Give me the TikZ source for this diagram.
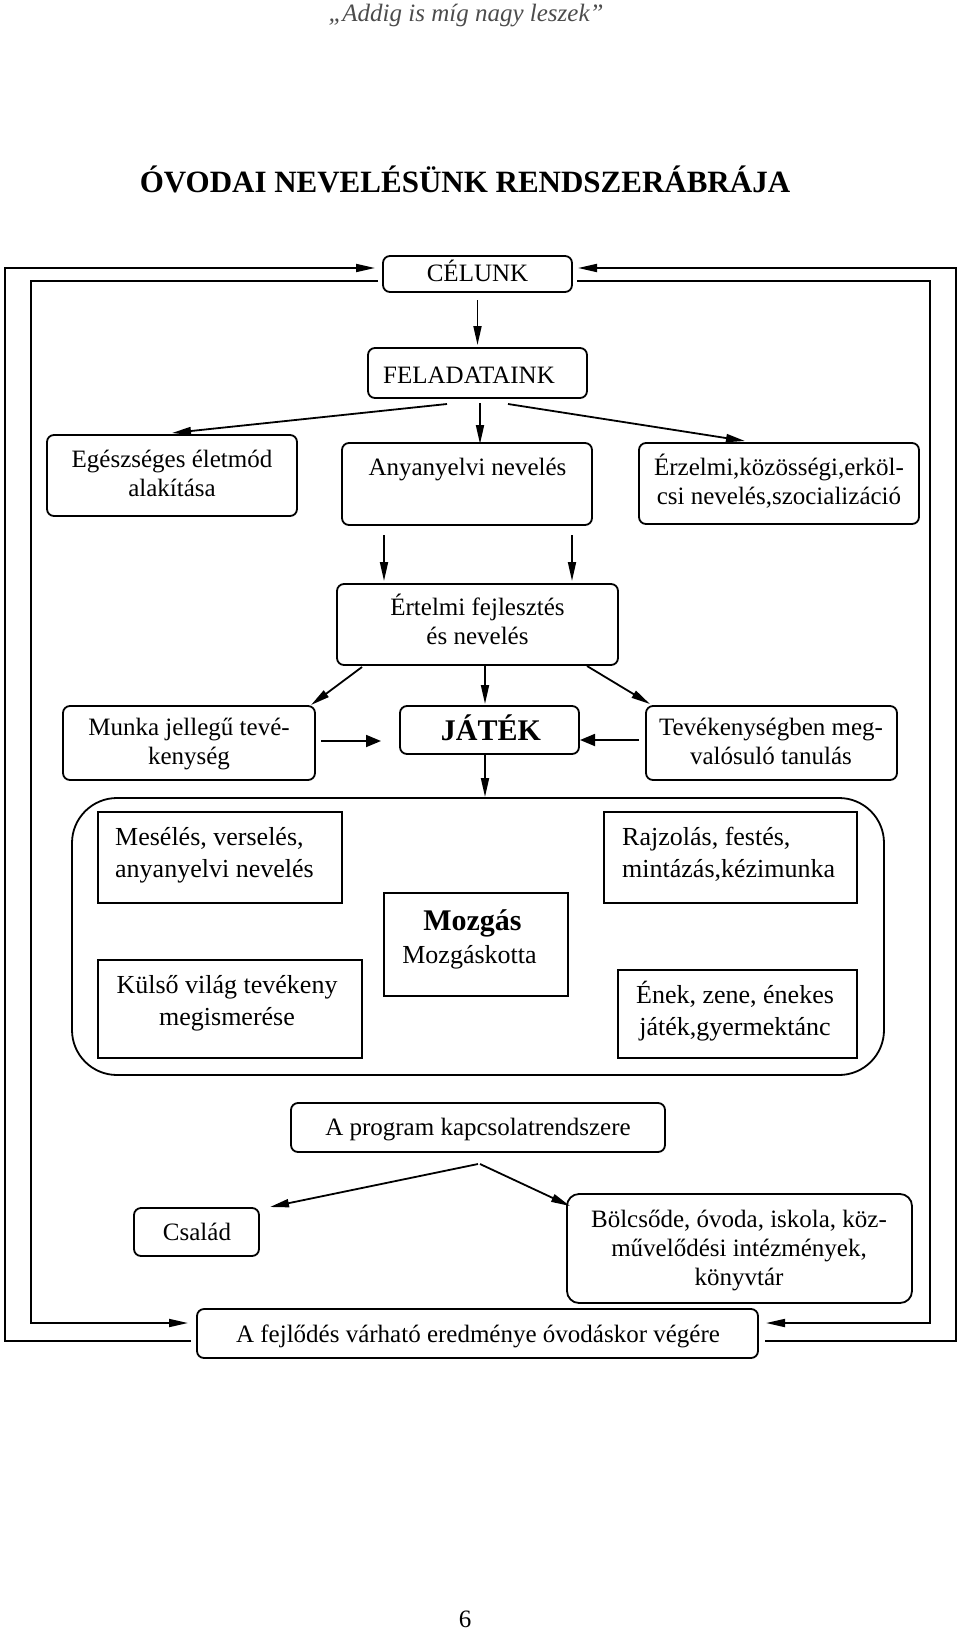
\documentclass[tikz,border=0pt]{standalone}
\usepackage{fontspec}
\setmainfont{Liberation Serif}
\usetikzlibrary{arrows.meta}
\newcommand\stA{\rule{0pt}{24pt}}
\newcommand\stB{\rule{0pt}{25pt}}
\begin{document}
\begin{tikzpicture}[x=1pt,y=-1pt,
  box/.style={draw, line width=1.8pt, rounded corners=7pt, inner sep=0pt, outer sep=0pt},
  sbox/.style={draw, line width=1.8pt, inner sep=0pt, outer sep=0pt},
  arr/.style={line width=1.8pt, -{Triangle[length=19pt,width=8pt]}},
  arrw/.style={line width=1.8pt, -{Triangle[length=15pt,width=12pt]}},
  tx/.style={font=\fontsize{25}{29}\selectfont, align=center, anchor=north, inner sep=0pt},
  t1/.style={font=\fontsize{25}{29}\selectfont, anchor=base, inner sep=0pt},
  tb/.style={font=\fontsize{26}{32}\selectfont, inner sep=0pt},
  tbold/.style={font=\fontsize{30}{34}\selectfont\bfseries, anchor=base, inner sep=0pt}
]
\useasboundingbox (0,0) rectangle (960,1632);

% header and title
\node[t1, font=\fontsize{25}{29}\selectfont\itshape, text=black!70] (hdr) at (466,21.5) {„Addig is míg nagy leszek”};
\node[anchor=base, inner sep=0pt, font=\fontsize{31}{35}\selectfont\bfseries] (ttl) at (465,193) {ÓVODAI NEVELÉSÜNK RENDSZERÁBRÁJA};

% boxes
\node[box, minimum width=189pt, minimum height=36pt] (cel) at (477.5,274) {};
\node[box, minimum width=219pt, minimum height=50pt] (fel) at (477.5,373) {};
\node[box, minimum width=250pt, minimum height=81pt] (egesz) at (172,475.5) {};
\node[box, minimum width=250pt, minimum height=82pt] (anya) at (467,484) {};
\node[box, minimum width=280pt, minimum height=81pt] (erzel) at (779,483.5) {};
\node[box, minimum width=281pt, minimum height=81pt] (ertel) at (477.5,624.5) {};
\node[box, minimum width=252pt, minimum height=74pt] (munka) at (189,743) {};
\node[box, minimum width=179pt, minimum height=48pt] (jatek) at (489.5,730) {};
\node[box, minimum width=251pt, minimum height=74pt] (tevek) at (771.5,743) {};
\node[box, rounded corners=45pt, minimum width=812pt, minimum height=277pt] (cont) at (478,936.5) {};
\node[sbox, minimum width=244pt, minimum height=91pt] (mesel) at (220,857.5) {};
\node[sbox, minimum width=264pt, minimum height=98pt] (kulso) at (230,1009) {};
\node[sbox, minimum width=184pt, minimum height=103pt] (mozg) at (476,944.5) {};
\node[sbox, minimum width=253pt, minimum height=91pt] (rajz) at (730.5,857.5) {};
\node[sbox, minimum width=239pt, minimum height=88pt] (enek) at (737.5,1014) {};
\node[box, minimum width=374pt, minimum height=49pt] (prog) at (478,1127.5) {};
\node[box, minimum width=125pt, minimum height=48pt] (csal) at (196.5,1232) {};
\node[box, rounded corners=12pt, minimum width=345pt, minimum height=109pt] (bolcs) at (739.5,1248.5) {};
\node[box, minimum width=561pt, minimum height=49pt] (fejl) at (477.5,1333.5) {};

% texts
\node[t1] (celT) at (477.5,281) {CÉLUNK};
\node[t1] (felT) at (469,383) {FELADATAINK};
\node[tx] (egeszT) at (172,443) {\stA Egészséges életmód\\alakítása};
\node[t1] (anyaT) at (467.5,475) {Anyanyelvi nevelés};
\node[tx] (erzelT) at (779,451) {\stA Érzelmi,közösségi,erköl-\\csi nevelés,szocializáció};
\node[tx] (ertelT) at (477.5,591) {\stA Értelmi fejlesztés\\és nevelés};
\node[tx] (munkaT) at (189,711) {\stA Munka jellegű tevé-\\kenység};
\node[tbold] (jatekT) at (491,740) {JÁTÉK};
\node[tx] (tevekT) at (771,711) {\stA Tevékenységben meg-\\valósuló tanulás};
\node[tb, anchor=north west, align=left] (meselT) at (115,820) {\stB Mesélés, verselés,\\anyanyelvi nevelés};
\node[tb, anchor=north, align=center] (kulsoT) at (227,968) {\stB Külső világ tevékeny\\megismerése};
\node[tbold] (mozgT) at (472.5,930) {Mozgás};
\node[tb, anchor=base] (mozgT2) at (469.5,963) {Mozgáskotta};
\node[tb, anchor=north west, align=left] (rajzT) at (622,820) {\stB Rajzolás, festés,\\mintázás,kézimunka};
\node[tb, anchor=north, align=center] (enekT) at (735,978) {\stB Ének, zene, énekes\\játék,gyermektánc};
\node[t1] (progT) at (478,1135) {A program kapcsolatrendszere};
\node[t1] (csalT) at (197,1240) {Család};
\node[tx] (bolcsT) at (739,1203) {\stA Bölcsőde, óvoda, iskola, köz-\\művelődési intézmények,\\könyvtár};
\node[t1] (fejlT) at (478,1342) {A fejlődés várható eredménye óvodáskor végére};
\node[t1] (page) at (465,1627) {6};

% frame corners
\coordinate (oBL) at (5,1341);
\coordinate (oTL) at (5,268);
\coordinate (oTR) at (956,268);
\coordinate (oBR) at (956,1341);
\coordinate (iTL) at (31,281);
\coordinate (iBL) at (31,1323);
\coordinate (iTR) at (930,281);
\coordinate (iBR) at (930,1323);

% frame loops
\draw[arr] ([xshift=-6pt,yshift=-7.5pt]fejl.west) -- (oBL) -- (oTL) -- ([xshift=-8pt,yshift=6pt]cel.west);
\draw[arr] ([xshift=7pt,yshift=-7.5pt]fejl.east) -- (oBR) -- (oTR) -- ([xshift=6pt,yshift=6pt]cel.east);
\draw[arr] ([xshift=-5pt,yshift=-7pt]cel.west) -- (iTL) -- (iBL) -- ([xshift=-9pt,yshift=10.5pt]fejl.west);
\draw[arr] ([xshift=5pt,yshift=-7pt]cel.east) -- (iTR) -- (iBR) -- ([xshift=8pt,yshift=10.5pt]fejl.east);

% connectors
\draw[arr, shorten <=8pt, shorten >=3pt] (cel.south) -- (fel.north);
\draw[arr] ([xshift=-30.5pt,yshift=-6pt]fel.south) -- ([yshift=2pt]egesz.north);
\draw[arr] ([xshift=2.5pt,yshift=-5pt]fel.south) -- ([xshift=13pt,yshift=-1pt]anya.north);
\draw[arr] ([xshift=30.5pt,yshift=-6pt]fel.south) -- ([xshift=-34pt,yshift=2pt]erzel.north);
\draw[arr] ([xshift=-83pt,yshift=-10pt]anya.south) -- ([xshift=-93.5pt,yshift=3pt]ertel.north);
\draw[arr] ([xshift=105pt,yshift=-10pt]anya.south) -- ([xshift=94.5pt,yshift=3pt]ertel.north);
\draw[arr] ([xshift=-115.5pt,yshift=-2pt]ertel.south) -- ([xshift=-4pt,yshift=1pt]munka.north east);
\draw[arr] ([xshift=7.5pt]ertel.south) -- ([xshift=-4.5pt,yshift=2pt]jatek.north);
\draw[arr] ([xshift=109.5pt,yshift=-1pt]ertel.south) -- ([xshift=4pt,yshift=2pt]tevek.north west);
\draw[arrw] ([xshift=6pt,yshift=2pt]munka.east) -- ([xshift=-19pt,yshift=-11pt]jatek.west);
\draw[arrw] ([xshift=-7pt,yshift=3pt]tevek.west) -- ([xshift=1pt,yshift=-10pt]jatek.east);
\draw[arr] ([xshift=-4.5pt]jatek.south) -- ([xshift=7pt,yshift=1pt]cont.north);
\draw[arr] ([yshift=-12pt]prog.south) -- ([xshift=11pt,yshift=1pt]csal.north east);
\draw[arr] ([xshift=2pt,yshift=-12pt]prog.south) -- ([xshift=3pt,yshift=-12pt]bolcs.north west);
\end{tikzpicture}
\end{document}
